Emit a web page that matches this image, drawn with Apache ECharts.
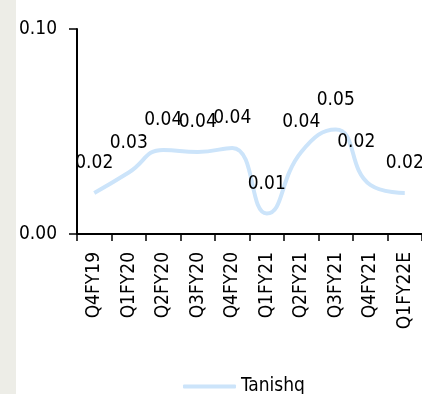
<!DOCTYPE html>
<html>
<head>
<meta charset="utf-8">
<script src="https://cdn.jsdelivr.net/npm/echarts@6/dist/echarts.min.js"></script>
<style>
html,body{margin:0;padding:0;}
body{background:linear-gradient(to right,#EDEDE7 0,#EDEDE7 16px,#ffffff 16px);}
#c{width:422px;height:394px;}
</style>
</head>
<body>
<div id="c"></div>
<script>
var categories = ['Q4FY19','Q1FY20','Q2FY20','Q3FY20','Q4FY20','Q1FY21','Q2FY21','Q3FY21','Q4FY21','Q1FY22E'];
var tanishq = [0.020, 0.030, 0.041, 0.040, 0.042, 0.010, 0.040, 0.051, 0.024, 0.020];
var yTicks = [0, 0.1];
var seriesName = 'Tanishq';

var FONT = '"DejaVu Sans Condensed", "Liberation Sans Narrow", sans-serif';
var FS = 19;
var chart = echarts.init(document.getElementById('c'));
var data = tanishq.map(function (v, i) {
  var d = { value: v };
  if (i === 8) d.label = { offset: [-14, -13] };
  return d;
});
chart.setOption({
  animation: false,
  grid: { left: 77, top: 29, right: 0, height: 205 },
  xAxis: {
    type: 'category',
    data: categories,
    boundaryGap: true,
    axisLine: { lineStyle: { color: '#000', width: 2 } },
    axisTick: { show: true, length: 7, inside: false, lineStyle: { color: '#000', width: 1.5 } },
    axisLabel: { rotate: 90, margin: 18, color: '#000', fontSize: FS, fontFamily: FONT, interval: 0 },
    splitLine: { show: false }
  },
  yAxis: {
    type: 'value',
    min: yTicks[0],
    max: yTicks[yTicks.length - 1],
    interval: 0.1,
    axisLine: { show: true, lineStyle: { color: '#000', width: 2 } },
    axisTick: { show: true, length: 8, lineStyle: { color: '#000', width: 1.5 } },
    axisLabel: { margin: 20, color: '#000', fontSize: FS, fontFamily: FONT,
      formatter: function (v) { return v.toFixed(2); } },
    splitLine: { show: false }
  },
  legend: {
    left: 178, top: 372,
    itemWidth: 53, itemHeight: 4,
    icon: 'roundRect',
    textStyle: { color: '#000', fontSize: FS, fontFamily: FONT },
    data: [seriesName]
  },
  series: [{
    name: seriesName,
    type: 'line',
    smooth: 0.5,
    data: data,
    showSymbol: true,
    symbol: 'circle',
    symbolSize: 0,
    itemStyle: { color: '#CCE4FA' },
    lineStyle: { color: '#CCE4FA', width: 4 },
    label: {
      show: true, position: 'top', distance: 20,
      color: '#000', fontSize: FS, fontFamily: FONT,
      formatter: function (p) { return p.value.toFixed(2); }
    }
  }]
});
</script>
</body>
</html>
